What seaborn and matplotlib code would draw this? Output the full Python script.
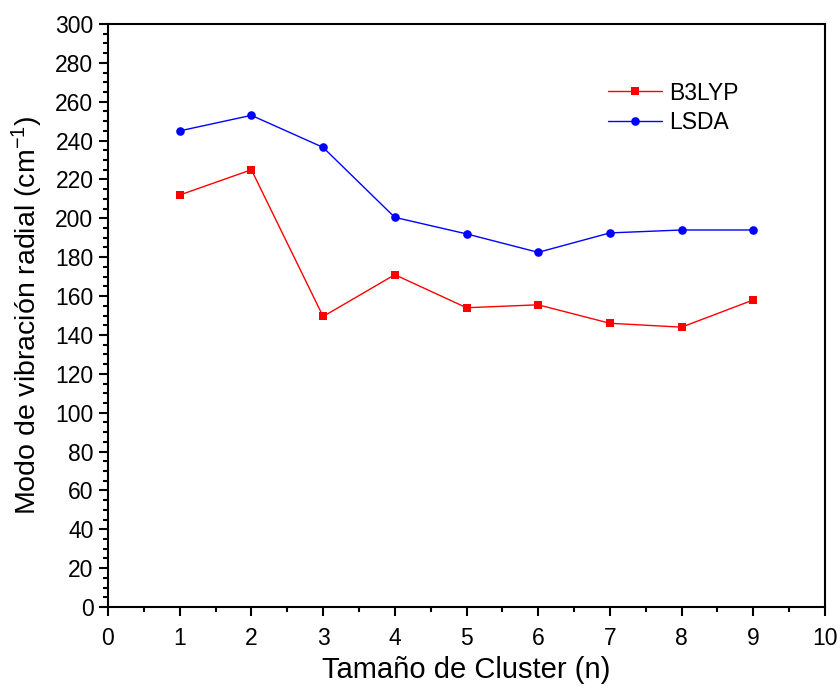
import matplotlib
matplotlib.use("Agg")
import matplotlib.pyplot as plt
import seaborn as sns
import pandas as pd
from matplotlib.ticker import MultipleLocator

cluster = [1, 2, 3, 4, 5, 6, 7, 8, 9]
b3lyp = [212, 225, 149.5, 171, 154, 155.5, 146, 144, 158]
lsda = [245, 253, 236.5, 200.5, 192, 182.5, 192.5, 194, 194]

df = pd.concat([
    pd.DataFrame({"n": cluster, "val": b3lyp, "Método": "B3LYP"}),
    pd.DataFrame({"n": cluster, "val": lsda, "Método": "LSDA"}),
])

sns.set_style("white")
plt.rcParams['font.family'] = ['Liberation Sans', 'DejaVu Sans']
plt.rcParams['text.color'] = 'black'
plt.rcParams['axes.labelcolor'] = 'black'
plt.rcParams['xtick.color'] = 'black'
plt.rcParams['ytick.color'] = 'black'
plt.rcParams['mathtext.fontset'] = 'custom'
plt.rcParams['mathtext.rm'] = 'Liberation Sans'
plt.rcParams['mathtext.it'] = 'Liberation Sans'
plt.rcParams['mathtext.bf'] = 'Liberation Sans'

fig = plt.figure(figsize=(8.4, 6.96), dpi=100)
ax = fig.add_axes([108/840, 1-607/696, (825-108)/840, (607-24)/696])

sns.lineplot(data=df, x="n", y="val", hue="Método", style="Método",
             markers={"B3LYP": "s", "LSDA": "o"}, dashes=False,
             palette={"B3LYP": "#ff0000", "LSDA": "#0000ff"},
             markersize=6.2, linewidth=1, markeredgewidth=0, ax=ax)

ax.set_xlim(0, 10)
ax.set_ylim(0, 300)
ax.xaxis.set_major_locator(MultipleLocator(1))
ax.xaxis.set_minor_locator(MultipleLocator(0.5))
ax.yaxis.set_major_locator(MultipleLocator(20))
ax.yaxis.set_minor_locator(MultipleLocator(5))
ax.tick_params(axis='both', which='major', direction='out', length=6.5, width=1.5,
               labelsize=16.5, bottom=True, left=True, top=False, right=False,
               color='black', labelcolor='black')
ax.tick_params(axis='x', which='major', pad=8)
ax.tick_params(axis='y', which='major', pad=4)
ax.tick_params(axis='both', which='minor', direction='out', length=3.5, width=1.5,
               bottom=True, left=True, top=False, right=False, color='black')
for s in ax.spines.values():
    s.set_linewidth(1.5)
    s.set_color('black')

ax.set_xlabel("Tamaño de Cluster (n)", fontsize=21, labelpad=4)
ax.set_ylabel("Modo de vibración radial (cm$^{\\mathrm{-1}}$)", fontsize=20.5, labelpad=7)

leg = ax.legend(title=None, loc='center left', bbox_to_anchor=(0.697, 0.856),
                frameon=False, fontsize=16.5, handlelength=2.35, handletextpad=0.35,
                labelspacing=0.3, borderpad=0, borderaxespad=0)

fig.savefig("out.png", dpi=100)
